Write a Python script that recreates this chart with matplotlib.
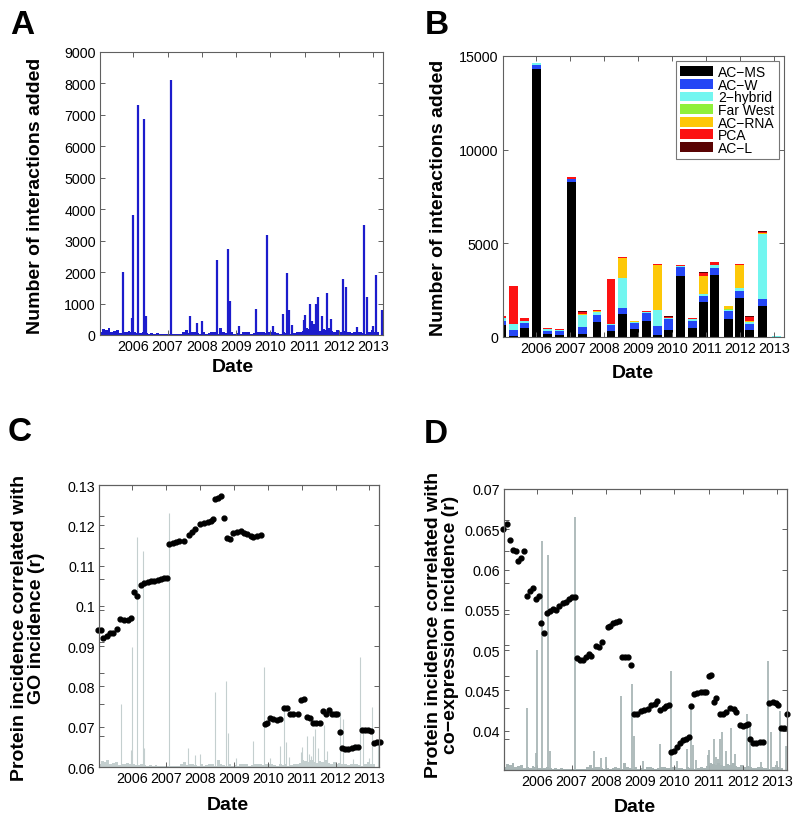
import numpy as np
import matplotlib
matplotlib.use('Agg')
import matplotlib.pyplot as plt

plt.rcParams['font.family'] = ['Liberation Sans', 'DejaVu Sans']

# ---------------- data ----------------
# Panel A: large deposition events (decimal year, number of interactions)
spike_dates = [2005.69, 2005.96, 2005.99, 2006.15, 2006.32, 2006.37, 2007.09, 2007.64,
               2007.87, 2008.01, 2008.45, 2008.76, 2008.82, 2009.08, 2009.57, 2009.90,
               2010.06, 2010.37, 2010.49, 2010.54, 2010.63, 2010.99, 2011.02, 2011.15,
               2011.22, 2011.28, 2011.34, 2011.38, 2011.49, 2011.65, 2011.75, 2012.12,
               2012.21, 2012.52, 2012.73, 2012.80, 2013.00, 2013.07, 2013.26]
spike_vals = [2000, 530, 3830, 7330, 6880, 600, 8100, 620,
              390, 430, 2380, 2750, 1080, 290, 830, 3180,
              300, 680, 1980, 800, 320, 480, 650, 1000,
              430, 350, 980, 1210, 620, 1350, 500, 1780,
              1540, 270, 3500, 1210, 300, 1900, 780]
# Panel A: monthly background level, Jan 2005 .. Feb 2013
bg_vals = [110, 200, 150, 210, 90, 140, 170, 70, 90, 80, 140, 110,
           80, 60, 50, 110, 50, 30, 50, 40, 50, 45, 40, 30,
           45, 30, 40, 25, 45, 110, 160, 60, 90, 110, 60, 45,
           80, 45, 60, 90, 80, 45, 220, 110, 60, 45, 110, 30,
           60, 45, 90, 110, 80, 45, 60, 110, 90, 80, 60, 90,
           110, 80, 60, 45, 90, 60, 80, 45, 60, 110, 80, 140,
           230, 190, 150, 210, 170, 140, 190, 150, 210, 140, 110, 150,
           110, 140, 90, 80, 60, 110, 90, 80, 60, 45, 90, 150,
           110, 80]
bg_dates = 2005.0 + (np.arange(len(bg_vals)) + 0.5) / 12.0

# Panel B: interactions per period by method
b_dates = [2004.98, 2005.34, 2005.67, 2006.01, 2006.34, 2006.69, 2007.03, 2007.36,
           2007.79, 2008.20, 2008.53, 2008.89, 2009.24, 2009.57, 2009.89, 2010.24,
           2010.59, 2010.91, 2011.24, 2011.66, 2011.98, 2012.26, 2012.64, 2013.05]
methods = ['AC\u2212MS', 'AC\u2212W', '2\u2212hybrid', 'Far West', 'AC\u2212RNA', 'PCA', 'AC\u2212L']
ac_ms  = [650, 50, 500, 14300, 180, 120, 8250, 180, 780, 300, 1240, 425, 870, 90, 390, 3280, 480, 1880, 3300, 940, 2075, 355, 1630, 10]
ac_w   = [220, 350, 245, 230, 160, 210, 180, 370, 420, 320, 300, 300, 400, 480, 550, 460, 390, 335, 390, 425, 405, 355, 410, 10]
two_h  = [140, 310, 105, 80, 100, 60, 30, 650, 120, 70, 1630, 70, 70, 850, 90, 50, 90, 105, 140, 90, 120, 105, 3475, 50]
far_w  = [0, 0, 0, 40, 0, 0, 0, 0, 20, 0, 0, 20, 0, 0, 0, 0, 0, 0, 0, 30, 0, 0, 0, 0]
ac_rna = [20, 0, 0, 0, 0, 0, 0, 30, 40, 0, 1060, 30, 20, 2400, 0, 0, 0, 940, 0, 145, 1250, 20, 55, 0]
pca    = [70, 1990, 160, 0, 40, 40, 60, 120, 50, 2390, 30, 20, 30, 70, 60, 40, 60, 180, 175, 20, 30, 245, 50, 0]
ac_l   = [10, 0, 0, 0, 20, 20, 20, 20, 20, 20, 20, 0, 0, 20, 20, 20, 20, 20, 20, 15, 20, 20, 40, 0]
method_colors = ['#000000', '#2446f5', '#72f6f0', '#8ff03a', '#fdc808', '#fc1212', '#5a0303']

# Panel C: correlation with GO incidence
c_dates = [2005.00, 2005.08, 2005.16, 2005.26, 2005.35, 2005.45, 2005.55, 2005.65, 2005.77, 2005.87,
           2005.98, 2006.06, 2006.16, 2006.26, 2006.36, 2006.46, 2006.55, 2006.65, 2006.77, 2006.85,
           2006.95, 2007.03, 2007.10, 2007.20, 2007.30, 2007.40, 2007.52, 2007.67, 2007.77, 2007.85,
           2008.01, 2008.11, 2008.23, 2008.32, 2008.40, 2008.46, 2008.54, 2008.62, 2008.72, 2008.80,
           2008.89, 2008.99, 2009.09, 2009.21, 2009.31, 2009.40, 2009.50, 2009.58, 2009.68, 2009.80,
           2009.92, 2009.99, 2010.07, 2010.17, 2010.27, 2010.37, 2010.49, 2010.57, 2010.66, 2010.76,
           2010.88, 2010.98, 2011.08, 2011.16, 2011.25, 2011.33, 2011.43, 2011.53, 2011.63, 2011.73,
           2011.80, 2011.90, 2011.98, 2012.04, 2012.12, 2012.20, 2012.28, 2012.37, 2012.47, 2012.57,
           2012.65, 2012.77, 2012.87, 2012.96, 2013.04, 2013.12, 2013.22, 2013.30]
c_vals = [0.0940, 0.0940, 0.0919, 0.0926, 0.0933, 0.0932, 0.0943, 0.0967, 0.0966, 0.0966,
          0.0970, 0.1034, 0.1025, 0.1052, 0.1057, 0.1058, 0.1062, 0.1062, 0.1064, 0.1067,
          0.1069, 0.1069, 0.1153, 0.1157, 0.1159, 0.1160, 0.1161, 0.1176, 0.1183, 0.1191,
          0.1202, 0.1205, 0.1207, 0.1211, 0.1215, 0.1265, 0.1268, 0.1272, 0.1217, 0.1168,
          0.1166, 0.1181, 0.1183, 0.1185, 0.1181, 0.1178, 0.1173, 0.1170, 0.1173, 0.1176,
          0.0707, 0.0709, 0.0721, 0.0718, 0.0716, 0.0718, 0.0746, 0.0746, 0.0732, 0.0732,
          0.0732, 0.0767, 0.0770, 0.0723, 0.0721, 0.0708, 0.0708, 0.0708, 0.0740, 0.0732,
          0.0742, 0.0731, 0.0731, 0.0732, 0.0688, 0.0646, 0.0645, 0.0645, 0.0648, 0.0649,
          0.0649, 0.0693, 0.0693, 0.0692, 0.0689, 0.0660, 0.0661, 0.0661]

# Panel D: correlation with co-expression incidence
d_dates = [2005.00, 2005.12, 2005.20, 2005.29, 2005.37, 2005.45, 2005.53, 2005.62, 2005.70, 2005.80,
           2005.88, 2005.96, 2006.05, 2006.12, 2006.21, 2006.29, 2006.36, 2006.46, 2006.56, 2006.64,
           2006.74, 2006.83, 2006.93, 2007.01, 2007.09, 2007.15, 2007.24, 2007.34, 2007.42, 2007.50,
           2007.57, 2007.71, 2007.79, 2007.89, 2008.05, 2008.13, 2008.22, 2008.29, 2008.39, 2008.47,
           2008.55, 2008.65, 2008.74, 2008.82, 2008.92, 2009.02, 2009.12, 2009.22, 2009.32, 2009.42,
           2009.48, 2009.58, 2009.68, 2009.76, 2009.83, 2009.90, 2010.00, 2010.08, 2010.17, 2010.26,
           2010.34, 2010.42, 2010.49, 2010.57, 2010.67, 2010.76, 2010.86, 2010.93, 2011.00, 2011.07,
           2011.14, 2011.22, 2011.32, 2011.41, 2011.51, 2011.63, 2011.73, 2011.80, 2011.90, 2012.00,
           2012.08, 2012.14, 2012.19, 2012.29, 2012.39, 2012.49, 2012.58, 2012.76, 2012.86, 2012.95,
           2013.01, 2013.11, 2013.19, 2013.28]
d_vals = [0.0650, 0.0656, 0.0637, 0.0624, 0.0623, 0.0611, 0.0614, 0.0623, 0.0567, 0.0573,
          0.0577, 0.0563, 0.0567, 0.0534, 0.0521, 0.0546, 0.0549, 0.0551, 0.0550, 0.0555,
          0.0558, 0.0560, 0.0563, 0.0566, 0.0566, 0.0490, 0.0487, 0.0488, 0.0491, 0.0495,
          0.0493, 0.0505, 0.0504, 0.0510, 0.0528, 0.0530, 0.0533, 0.0535, 0.0536, 0.0491,
          0.0491, 0.0491, 0.0482, 0.0420, 0.0421, 0.0424, 0.0426, 0.0427, 0.0432, 0.0433,
          0.0437, 0.0425, 0.0428, 0.0431, 0.0432, 0.0373, 0.0375, 0.0379, 0.0384, 0.0388,
          0.0389, 0.0392, 0.0430, 0.0445, 0.0447, 0.0448, 0.0448, 0.0448, 0.0468, 0.0469,
          0.0435, 0.0441, 0.0420, 0.0421, 0.0423, 0.0428, 0.0427, 0.0423, 0.0407, 0.0406,
          0.0407, 0.0408, 0.0389, 0.0384, 0.0385, 0.0386, 0.0386, 0.0434, 0.0435, 0.0434,
          0.0432, 0.0403, 0.0403, 0.0420]

year_ticks = [2006, 2007, 2008, 2009, 2010, 2011, 2012, 2013]
year_labels = ['2006', '2007', '2008', '2009', '2010', '2011', '2012', '2013']

# ---------------- figure ----------------
W, H = 800, 820
fig = plt.figure(figsize=(W / 100, H / 100), dpi=100)
XLIM = (2005.03, 2013.28)
BLUE = '#1c1ccc'
SPINE = '#606060'
TICKSIZE = 10.3


def rect(l, t, r, b):
    return [l / W, 1 - b / H, (r - l) / W, (b - t) / H]


def style(ax):
    for s in ax.spines.values():
        s.set_color(SPINE)
        s.set_linewidth(0.8)
    ax.tick_params(direction='in', length=3.5, width=0.7, color=SPINE,
                   labelsize=TICKSIZE, top=True, right=True, pad=3)
    ax.set_xlim(*XLIM)
    ax.set_xticks(year_ticks)
    ax.set_xticklabels(year_labels)


def spikes(ax, color, lw):
    ax.bar(bg_dates, bg_vals, width=1 / 12, color=color, linewidth=0)
    ax.vlines(spike_dates, 0, spike_vals, colors=color, lw=lw)
    ax.set_ylim(0, 9000)


def twin_style(ax2):
    ax2.yaxis.tick_left()
    for s in ax2.spines.values():
        s.set_color(SPINE)
        s.set_linewidth(0.8)
    ax2.tick_params(axis='y', direction='in', length=3.5, width=0.7, color=SPINE,
                    labelsize=TICKSIZE, left=True, right=True, labelleft=True,
                    labelright=False, pad=3)


# Panel A
axA = fig.add_axes(rect(100, 53, 383, 336))
spikes(axA, BLUE, 1.6)
style(axA)
axA.set_yticks(range(0, 9001, 1000))

# Panel B
axB = fig.add_axes(rect(503, 57, 784, 338))
series = [ac_ms, ac_w, two_h, far_w, ac_rna, pca, ac_l]
bottom = np.zeros(len(b_dates))
handles = []
for vals, col, name in zip(series, method_colors, methods):
    h = axB.bar(b_dates, vals, width=0.26, bottom=bottom, color=col, linewidth=0, label=name)
    bottom = bottom + np.array(vals)
    handles.append(h)
style(axB)
axB.set_ylim(0, 15000)
axB.set_yticks([0, 5000, 10000, 15000])
leg = axB.legend(handles=handles, loc='upper right', bbox_to_anchor=(1 - 5 / 281, 1 - 5 / 281),
                 borderaxespad=0, fontsize=10, handlelength=2.4, handleheight=0.7,
                 labelspacing=-0.1, borderpad=0.3, handletextpad=0.35,
                 fancybox=False, framealpha=1, edgecolor='#777777')
leg.get_frame().set_linewidth(0.8)

# Panel C
axC = fig.add_axes(rect(99, 486, 379, 768))
spikes(axC, '#c4cfcf', 0.8)
style(axC)
axC.tick_params(axis='y', left=False, right=False, labelleft=False)
axC2 = axC.twinx()
axC2.plot(c_dates, c_vals, 'o', color='black', ms=3.5, clip_on=False)
axC2.set_ylim(0.06, 0.13)
axC2.set_yticks([0.06, 0.07, 0.08, 0.09, 0.10, 0.11, 0.12, 0.13])
axC2.set_yticklabels(['0.06', '0.07', '0.08', '0.09', '0.1', '0.11', '0.12', '0.13'])
twin_style(axC2)

# Panel D
axD = fig.add_axes(rect(504, 490, 787, 771))
spikes(axD, '#a9b6b6', 1.3)
style(axD)
axD.tick_params(axis='y', left=False, right=False, labelleft=False)
axD2 = axD.twinx()
axD2.plot(d_dates, d_vals, 'o', color='black', ms=3.5, clip_on=False)
axD2.set_ylim(0.0351, 0.07)
axD2.set_yticks([0.04, 0.045, 0.05, 0.055, 0.06, 0.065, 0.07])
axD2.set_yticklabels(['0.04', '0.045', '0.05', '0.055', '0.06', '0.065', '0.07'])
twin_style(axD2)

# ---------------- labels ----------------
lab = dict(fontsize=14, fontweight='bold', ha='center', va='center')
fig.text(233 / W, 1 - 368 / H, 'Date', **lab)
fig.text(633 / W, 1 - 374 / H, 'Date', **lab)
fig.text(228 / W, 1 - 806 / H, 'Date', **lab)
fig.text(635 / W, 1 - 808 / H, 'Date', **lab)
fig.text(36 / W, 1 - 196 / H, 'Number of interactions added', rotation=90, **lab)
fig.text(439 / W, 1 - 198 / H, 'Number of interactions added', rotation=90, **lab)
fig.text(28 / W, 1 - 628 / H, 'Protein incidence correlated with\nGO incidence (r)',
         rotation=90, multialignment='center', linespacing=1.0, **lab)
fig.text(442 / W, 1 - 625 / H, 'Protein incidence correlated with\nco\u2212expression incidence (r)',
         rotation=90, multialignment='center', linespacing=1.0, **lab)

let = dict(fontsize=24, fontweight='bold', ha='left', va='top')
fig.text(10 / W, 1 - 10 / H, 'A', **let)
fig.text(425 / W, 1 - 10 / H, 'B', **let)
fig.text(8 / W, 1 - 417 / H, 'C', **let)
fig.text(424 / W, 1 - 419 / H, 'D', **let)

fig.savefig('out.png', dpi=100)
